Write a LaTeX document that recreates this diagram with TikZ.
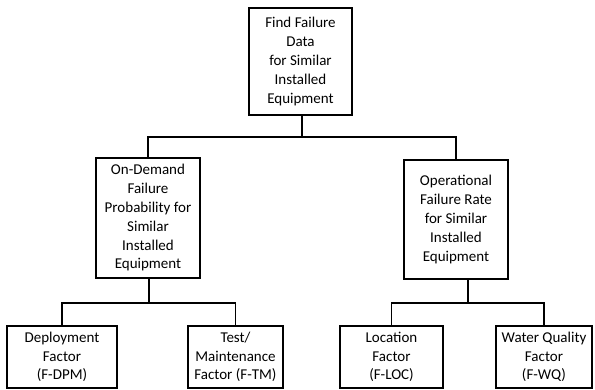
\documentclass[tikz,border=0pt]{standalone}
\usepackage{fontspec}
\setmainfont{Carlito}
\begin{document}
\begin{tikzpicture}[x=1pt,y=-1pt,
  box/.style={draw=black, line width=1.6pt, inner sep=0pt, align=center,
    font=\fontsize{15}{18.8}\selectfont},
  link/.style={draw=black, line width=1.6pt}]
\useasboundingbox[fill=white] (0,0) rectangle (595,390);
% boxes
\node[box, minimum width=103pt, minimum height=107pt] (top) at (300.5,61.5)
  {Find Failure\\Data\\for Similar\\Installed\\Equipment};
\node[box, minimum width=104pt, minimum height=120pt] (midL) at (148,218)
  {On-Demand\\Failure\\Probability for\\Similar\\Installed\\Equipment};
\node[box, minimum width=104pt, minimum height=119pt] (midR) at (456,219.5)
  {Operational\\Failure Rate\\for Similar\\Installed\\Equipment};
\node[box, minimum width=110pt, minimum height=62pt] (b1) at (62,357)
  {Deployment\\Factor\\(F-DPM)};
\node[box, minimum width=95pt, minimum height=62pt] (b2) at (235.5,357)
  {Test/\\Maintenance\\Factor (F-TM)};
\node[box, minimum width=103pt, minimum height=62pt] (b3) at (391.5,357)
  {Location\\Factor\\(F-LOC)};
\node[box, minimum width=96pt, minimum height=62pt] (b4) at (544,357)
  {Water Quality\\Factor\\(F-WQ)};
% junctions
\coordinate (j1) at (302,137);
\coordinate (j2) at (149,303);
\coordinate (j3) at (468,303);
% connectors
\draw[link] (top.south -| j1) -- (j1);
\draw[link] (midL.north) |- (j1) -| (midR.north);
\draw[link] (midL.south -| j2) -- (j2);
\draw[link] (b1.north) |- (j2) -| (b2.north);
\draw[link] (midR.south -| j3) -- (j3);
\draw[link] (b3.north) |- (j3) -| (b4.north);
\end{tikzpicture}
\end{document}
